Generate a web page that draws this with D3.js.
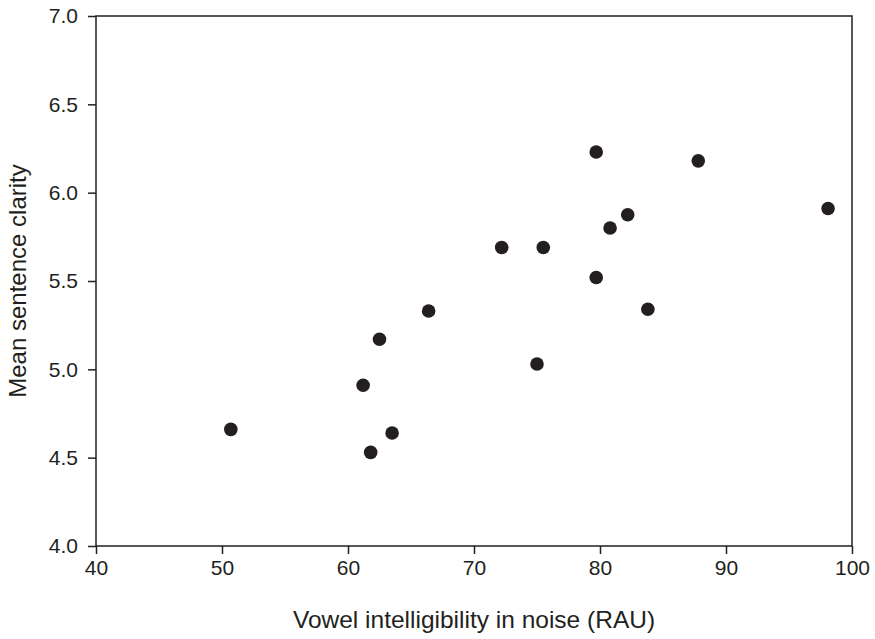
<!DOCTYPE html>
<html>
<head>
<meta charset="utf-8">
<script src="https://cdn.jsdelivr.net/npm/d3@7"></script>
<style>
  body { margin: 0; background: #fff; }
  text { font-family: "Liberation Sans", Arial, Helvetica, sans-serif; fill: #231f20; }
</style>
</head>
<body>
<svg id="chart" width="875" height="639"></svg>
<script>
// data
const vowelRAU = [50.7, 61.2, 61.8, 62.5, 63.5, 66.4, 72.2, 75.0, 75.5, 79.7, 79.7, 80.8, 82.2, 83.8, 87.8, 98.1];
const clarity  = [4.66, 4.91, 4.53, 5.17, 4.64, 5.33, 5.69, 5.03, 5.69, 6.23, 5.52, 5.80, 5.875, 5.34, 6.18, 5.91];
const xTicks = [40, 50, 60, 70, 80, 90, 100];
const yTicks = [4.0, 4.5, 5.0, 5.5, 6.0, 6.5, 7.0];

const margin = {top: 16, right: 23, bottom: 93, left: 96};
const width = 875 - margin.left - margin.right;
const height = 639 - margin.top - margin.bottom;

const svg = d3.select('#chart');
const g = svg.append('g')
    .attr('transform', 'translate(' + margin.left + ',' + margin.top + ')');

const x = d3.scaleLinear().domain([40, 100]).range([0, width]);
const y = d3.scaleLinear().domain([4, 7]).range([height, 0]);

// box
g.append('rect')
    .attr('width', width)
    .attr('height', height)
    .attr('fill', 'none')
    .attr('stroke', '#231f20')
    .attr('stroke-width', 1.5);

const xAxis = g.append('g')
    .attr('transform', 'translate(0,' + height + ')')
    .call(d3.axisBottom(x).tickValues(xTicks).tickSize(8).tickPadding(6).tickFormat(d3.format('d')));

const yAxis = g.append('g')
    .call(d3.axisLeft(y).tickValues(yTicks).tickSize(8).tickPadding(10).tickFormat(d3.format('.1f')));

[xAxis, yAxis].forEach(a => {
    a.select('.domain').remove();
    a.selectAll('line').attr('stroke', '#231f20').attr('stroke-width', 1.5);
    a.selectAll('text')
        .style('font-family', '"Liberation Sans", Arial, sans-serif')
        .style('font-size', '21px')
        .attr('fill', '#231f20');
});

g.selectAll('circle.dot')
    .data(vowelRAU.map((v, i) => ({x: v, y: clarity[i]})))
    .enter()
    .append('circle')
    .attr('class', 'dot')
    .attr('cx', d => x(d.x))
    .attr('cy', d => y(d.y))
    .attr('r', 6.8)
    .attr('fill', '#231f20');

// axis titles
svg.append('text')
    .attr('x', 474)
    .attr('y', 628)
    .attr('text-anchor', 'middle')
    .style('font-size', '24.5px')
    .text('Vowel intelligibility in noise (RAU)');

svg.append('text')
    .attr('transform', 'translate(26,' + (margin.top + height / 2) + ') rotate(-90)')
    .attr('text-anchor', 'middle')
    .style('font-size', '24px')
    .text('Mean sentence clarity');
</script>
</body>
</html>
